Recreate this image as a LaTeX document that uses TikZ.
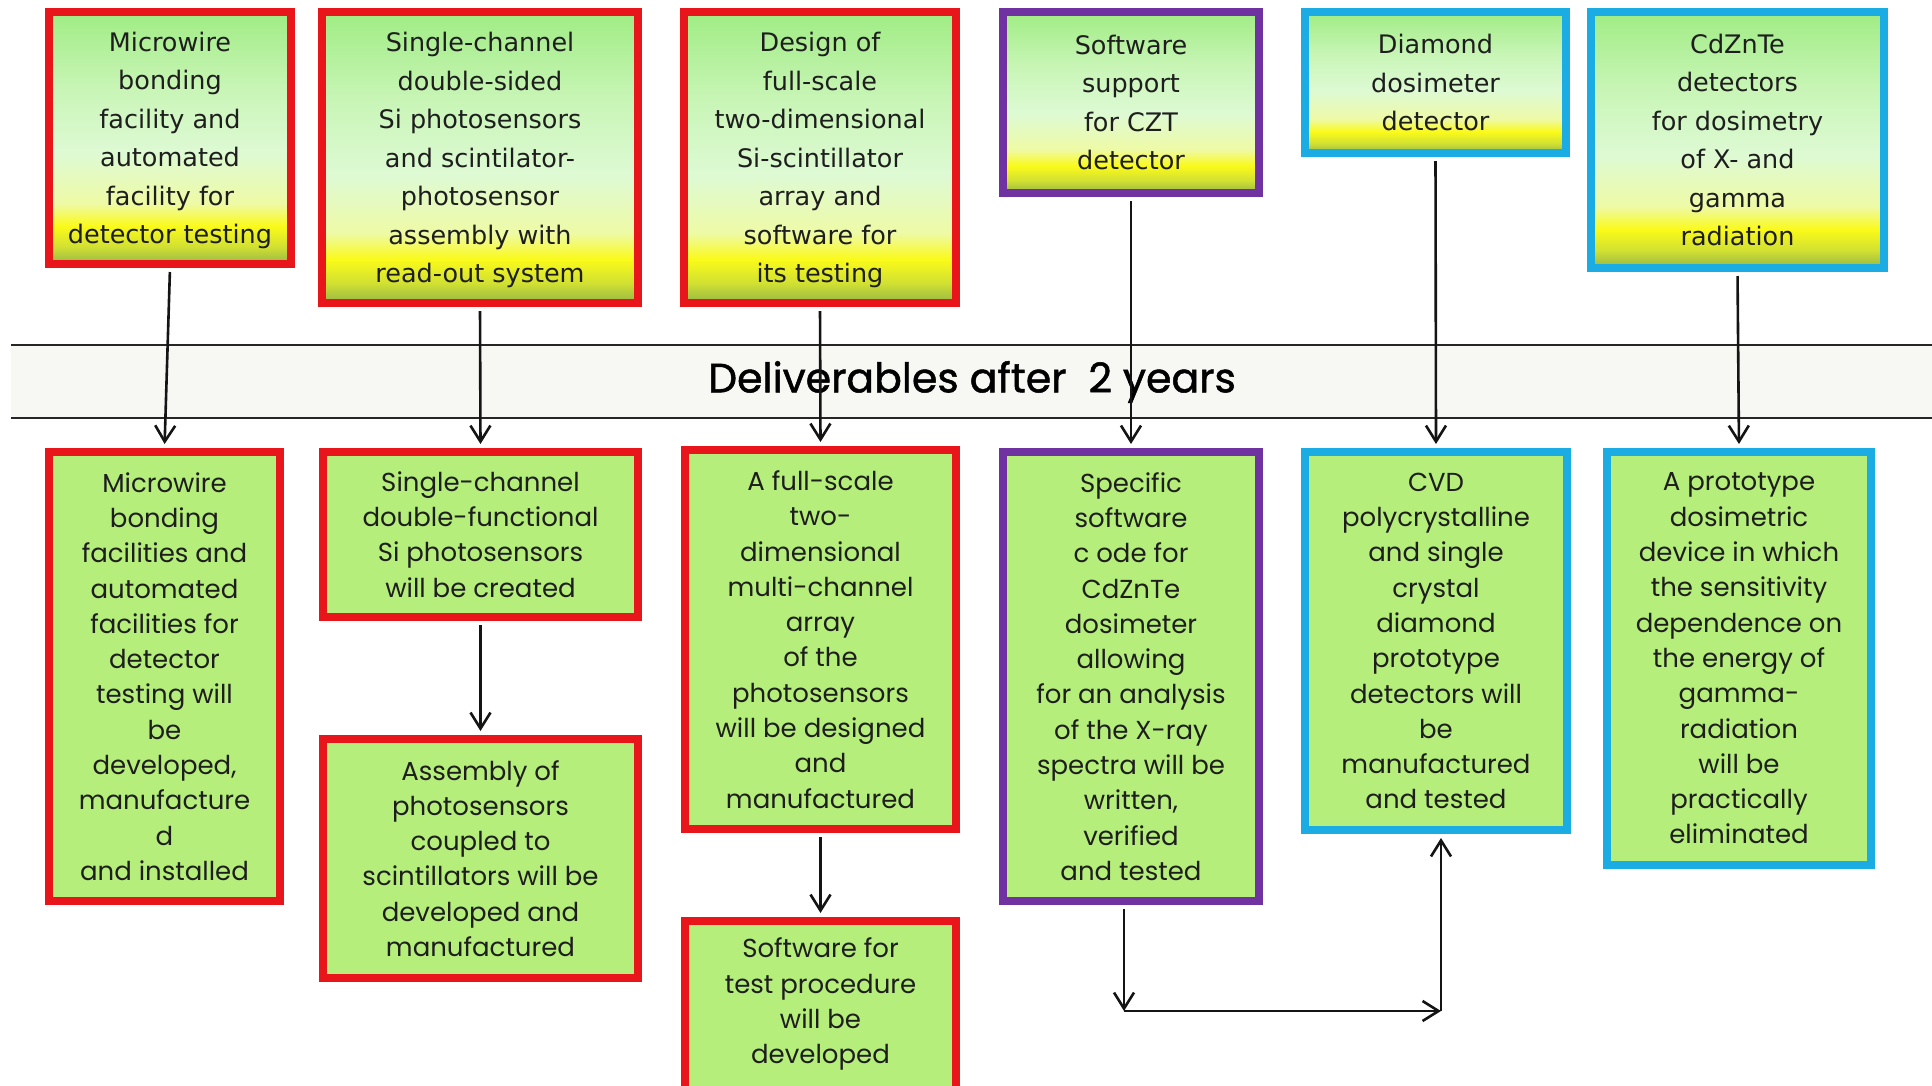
\documentclass[tikz,border=0pt]{standalone}
\usepackage{fontspec}
\setmainfont{DejaVu Sans}
\newfontfamily\botfont{Poppins}
\newfontfamily\titlefont[FakeBold=1.2]{Poppins}
\usetikzlibrary{arrows.meta}
\definecolor{bred}{RGB}{232,22,26}
\definecolor{bpur}{RGB}{112,50,160}
\definecolor{bcyan}{RGB}{28,172,228}
\definecolor{bgreen}{RGB}{181,238,122}
\definecolor{gOlive}{RGB}{150,182,70}
\definecolor{gOlYe}{RGB}{210,225,50}
\definecolor{gYel}{RGB}{250,250,25}
\definecolor{gYel2}{RGB}{238,250,165}
\definecolor{gPale}{RGB}{222,250,212}
\definecolor{gMid}{RGB}{200,245,182}
\definecolor{gTop}{RGB}{160,236,132}
\definecolor{bandgray}{RGB}{247,247,244}
\definecolor{txt}{RGB}{30,30,30}
\pgfdeclareverticalshading{topgrad}{100bp}{color(0bp)=(gOlive); color(25bp)=(gOlive); color(28.5bp)=(gOlYe); color(32.5bp)=(gYel); color(37bp)=(gYel2); color(47bp)=(gPale); color(60bp)=(gMid); color(75bp)=(gTop); color(100bp)=(gTop)}
\tikzset{
  topbox/.style={line width=8bp, shading=topgrad, inner sep=0pt, align=center, text=txt,
    text depth=-3bp, font=\fontsize{25.5bp}{38.5bp}\selectfont},
  botbox/.style={line width=8bp, fill=bgreen, inner sep=0pt, align=center, text=txt,
    font=\botfont\fontsize{26bp}{35.3bp}\selectfont},
  arr/.style={line width=2.6bp, draw=black!92, -{Straight Barb[length=16bp,width=20bp]}},
  sz/.style 2 args={minimum width=#1bp, minimum height=#2bp}
}
\begin{document}
\begin{tikzpicture}[x=1bp,y=-1bp]
\clip (0,0) rectangle (1932,1085);
\fill[white] (0,0) rectangle (1932,1085);
% band
\fill[bandgray] (11,345) rectangle (1932,418);
\draw[line width=2bp, black!85] (11,345) -- (1932,345);
\draw[line width=2bp, black!85] (11,418) -- (1932,418);
\node[font=\titlefont\fontsize{41bp}{43bp}\selectfont, text=black] (title) at (972,382) {Deliverables after\ \ 2 years};
% top boxes
\node[topbox, draw=bred, sz={242}{252}] (t1) at (170,138) {Microwire\\bonding\\facility and\\automated\\facility for\\detector testing};
\node[topbox, draw=bred, sz={316}{291}] (t2) at (480,157.5) {Single-channel\\double-sided\\Si photosensors\\and scintilator-\\photosensor\\assembly with\\read-out system};
\node[topbox, draw=bred, sz={272}{291}] (t3) at (820,157.5) {Design of\\full-scale\\two-dimensional\\Si-scintillator\\array and\\software for\\its testing};
\node[topbox, draw=bpur, sz={256}{181}] (t4) at (1131,102.5) {Software\\support\\for CZT\\detector};
\node[topbox, draw=bcyan, sz={261}{141}] (t5) at (1435.5,82.5) {Diamond\\dosimeter\\detector};
\node[topbox, draw=bcyan, sz={293}{256}] (t6) at (1737.5,140) {CdZnTe\\detectors\\for dosimetry\\of X- and\\gamma\\radiation};
% bottom boxes
\node[botbox, draw=bred, sz={231}{449}] (b1) at (164.5,676.5) {Microwire\\bonding\\facilities and\\automated\\facilities for\\detector\\testing will\\be\\developed,\\manufacture\\d\\and installed};
\node[botbox, draw=bred, sz={315}{165}] (b2) at (480.5,534.5) {Single-channel\\double-functional\\Si photosensors\\will be created};
\node[botbox, draw=bred, sz={315}{239}] (b3) at (480.5,858.5) {Assembly of\\photosensors\\coupled to\\scintillators will be\\developed and\\manufactured};
\node[botbox, draw=bred, sz={271}{379}] (b4) at (820.5,639.5) {A full-scale\\two-\\dimensional\\multi-channel\\array\\of the\\photosensors\\will be designed\\and\\manufactured};
\node[botbox, draw=bred, sz={271}{180}, text depth=20bp] (b5) at (820.5,1011) {Software for\\test procedure\\will be\\developed};
\node[botbox, draw=bpur, sz={256}{449}] (b6) at (1131,676.5) {Specific\\software\\c ode for\\CdZnTe\\dosimeter\\allowing\\for an analysis\\of the X-ray\\spectra will be\\written,\\verified\\and tested};
\node[botbox, draw=bcyan, sz={262}{378}] (b7) at (1436,641) {CVD\\polycrystalline\\and single\\crystal\\diamond\\prototype\\detectors will\\be\\manufactured\\and tested};
\node[botbox, draw=bcyan, sz={264}{413}] (b8) at (1739,658.5) {A prototype\\dosimetric\\device in which\\the sensitivity\\dependence on\\the energy of\\gamma-\\radiation\\will be\\practically\\eliminated};
% connectors
\draw[arr, shorten <=4bp, shorten >=4bp] (t1.south) -- (b1.north);
\draw[arr, shorten <=4bp, shorten >=4bp] (t2.south) -- (b2.north);
\draw[arr, shorten <=4bp, shorten >=4bp] (t3.south) -- (b4.north);
\draw[arr, shorten <=4bp, shorten >=4bp] (t4.south) -- (b6.north);
\draw[arr, shorten <=4bp, shorten >=4bp] (t5.south) -- (b7.north);
\draw[arr, shorten <=4bp, shorten >=4bp] (t6.south) -- (b8.north);
\draw[arr, shorten <=4bp, shorten >=4bp] (b2.south) -- (b3.north);
\draw[arr, shorten <=4bp, shorten >=4bp] (b4.south) -- (b5.north);
\coordinate (c1) at (1124,1011);
\coordinate (c2) at (1441,1011);
\draw[arr, shorten <=4bp] (b6.south -| c1) -- (c1);
\draw[arr] (c1) -- (c2);
\draw[arr, shorten >=4bp] (c2) -- (c2 |- b7.south);
\end{tikzpicture}
\end{document}
